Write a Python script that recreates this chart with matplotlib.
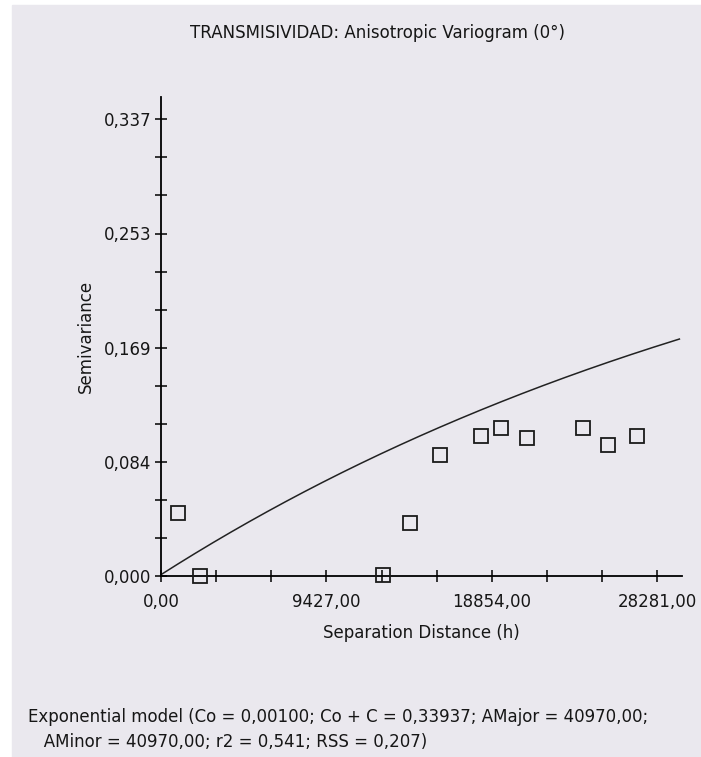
import numpy as np
import matplotlib
matplotlib.use("Agg")
import matplotlib.pyplot as plt

# Experimental semivariogram (lag distance, semivariance)
lag_distance = [986, 2241, 12658, 14198, 15926, 18246, 19404, 20852, 24045, 25488, 27124]
semivariance = [0.0467, 0.0, 0.0010, 0.0393, 0.0893, 0.1031, 0.1095, 0.1019, 0.1095, 0.0969, 0.1031]

# Exponential model parameters
nugget = 0.00100
sill = 0.33937
range_a = 40970.0

x_ticklabels = ["0,00", "9427,00", "18854,00", "28281,00"]
y_ticklabels = ["0,000", "0,084", "0,169", "0,253", "0,337"]
x_max_label = 28281.0
y_max_label = 0.337

title = "TRANSMISIVIDAD: Anisotropic Variogram (0°)"
footer = ("Exponential model (Co = 0,00100; Co + C = 0,33937; AMajor = 40970,00;\n"
          "   AMinor = 40970,00; r2 = 0,541; RSS = 0,207)")

BG = "#EAE8EE"
FONT = ["DejaVu Sans"]
plt.rcParams["font.family"] = FONT
FS = 12
TXT = "#161616"

W, H = 701, 757
fig = plt.figure(figsize=(W / 100, H / 100), dpi=100)
fig.patch.set_facecolor("white")
# grey panel with thin white margin on top/left
fig.patches.append(plt.Rectangle((12 / W, 0), 1 - 12 / W, 1 - 5 / H,
                                 transform=fig.transFigure, color=BG, zorder=-10))

x_end = x_max_label * 1.05
y_end = y_max_label * 1.05
left, right = 161 / W, 682 / W
bottom, top = 1 - 576 / H, 1 - 96.5 / H
ax = fig.add_axes([left, bottom, right - left, top - bottom])
ax.set_facecolor("none")
ax.set_xlim(0, x_end)
ax.set_ylim(0, y_end)

for s in ("top", "right"):
    ax.spines[s].set_visible(False)
for s in ("left", "bottom"):
    ax.spines[s].set_color("black")
    ax.spines[s].set_linewidth(1.3)

# model curve
h = np.linspace(0, x_end * 0.995, 400)
c = sill - nugget
gamma = nugget + c * (1 - np.exp(-h / range_a))
ax.plot(h, gamma, color="#222222", lw=1.1, zorder=2)

# experimental points
ax.plot(lag_distance, semivariance, linestyle="none", marker="s", markersize=9.5,
        markerfacecolor="none", markeredgecolor="#1a1a1a", markeredgewidth=1.3,
        clip_on=False, zorder=3)

# ticks: every third tick labelled
xt = np.arange(0, 10) * x_max_label / 9
yt = np.arange(0, 13) * y_max_label / 12
ax.set_xticks(xt)
ax.set_yticks(yt)
ax.set_xticklabels([x_ticklabels[i // 3] if i % 3 == 0 else "" for i in range(len(xt))])
ax.set_yticklabels([y_ticklabels[i // 3] if i % 3 == 0 else "" for i in range(len(yt))])
ax.tick_params(direction="inout", length=8, width=1.1, color="black",
               labelsize=FS, labelcolor=TXT)
ax.tick_params(axis="x", pad=8.5)
ax.tick_params(axis="y", pad=3)

ax.set_xlabel("Separation Distance (h)", fontsize=FS, labelpad=9, color=TXT)
ax.set_ylabel("Semivariance", fontsize=FS, labelpad=6, color=TXT)

fig.text(0.5 + 27 / W, 1 - 33 / H, title, ha="center", va="center", fontsize=FS, color=TXT)
fig.text(28 / W, 1 - 729.5 / H, footer, ha="left", va="center", fontsize=FS,
         color=TXT, linespacing=1.45)

fig.savefig("out.png", dpi=100, facecolor="white")
